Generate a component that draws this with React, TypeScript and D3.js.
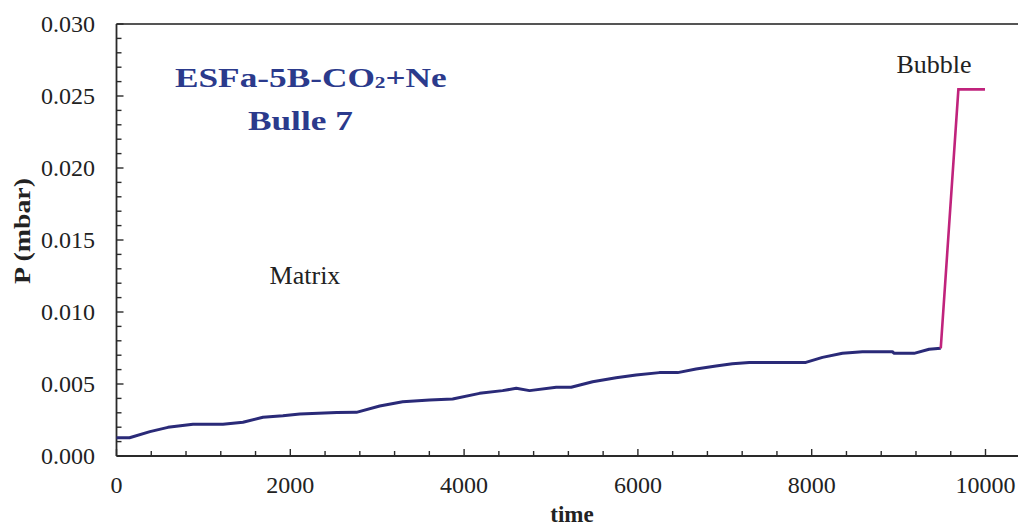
import React from 'react';
import * as d3 from 'd3';

const matrixTime = [0, 150, 385, 592, 880, 1225, 1455, 1685, 1915, 2110, 2535, 2761, 3029, 3293, 3603, 3868, 4178, 4443, 4600, 4753, 5060, 5232, 5479, 5749, 5979, 6247, 6458, 6669, 6899, 7087, 7282, 7933, 8124, 8354, 8584, 8929, 8950, 9178, 9351, 9485];
const matrixP = [0.00127, 0.00127, 0.00169, 0.00199, 0.0022, 0.0022, 0.00234, 0.00269, 0.0028, 0.00292, 0.00302, 0.00303, 0.00347, 0.00377, 0.00389, 0.00396, 0.00435, 0.00454, 0.0047, 0.00454, 0.00477, 0.00477, 0.00516, 0.00544, 0.00563, 0.00579, 0.00579, 0.00604, 0.00625, 0.00641, 0.0065, 0.0065, 0.00685, 0.00713, 0.00724, 0.00724, 0.00713, 0.00713, 0.00741, 0.00748];
const bubbleTime = [9485, 9688, 9994];
const bubbleP = [0.00748, 0.02546, 0.02546];

const xTicks = [0, 2000, 4000, 6000, 8000, 10000];
const yTicks = [0, 0.005, 0.01, 0.015, 0.02, 0.025, 0.03];
const yTickLabels = ['0.000', '0.005', '0.010', '0.015', '0.020', '0.025', '0.030'];

const FONT = '"Liberation Serif", "Times New Roman", serif';

export default function App() {
  const W = 1018;
  const H = 528;
  const x = d3.scaleLinear().domain([0, 10000]).range([116.5, 985.5]);
  const y = d3.scaleLinear().domain([0, 0.03]).range([456, 24]);
  const xMax = 10400;
  const xMinor = d3.range(0, xMax + 1, 400);
  const yMinor = d3.range(0, 31).map((i) => i * 0.001);

  const line = d3
    .line<[number, number]>()
    .x((d) => x(d[0]))
    .y((d) => y(d[1]));

  const matrixData = matrixTime.map((t, i) => [t, matrixP[i]] as [number, number]);
  const bubbleData = bubbleTime.map((t, i) => [t, bubbleP[i]] as [number, number]);

  const x0 = x(0);
  const xR = x(xMax);
  const yB = y(0);
  const yT = y(0.03);
  const axisColor = '#2a2a2a';

  return (
    <svg width={W} height={H} style={{ position: 'absolute', left: 0, top: 0, background: '#fff' }}>
      <rect x={0} y={0} width={W} height={H} fill="#fff" />
      {/* frame */}
      <line x1={x0} x2={xR} y1={yT} y2={yT} stroke="#555" strokeWidth={2} />
      <line x1={x0} x2={xR} y1={yB} y2={yB} stroke={axisColor} strokeWidth={1.8} />
      <line x1={x0} x2={x0} y1={yT} y2={yB} stroke={axisColor} strokeWidth={1.8} />
      {/* x ticks */}
      {xMinor.map((t) => {
        const major = t % 2000 === 0;
        return (
          <line key={'xt' + t} x1={x(t)} x2={x(t)} y1={yB} y2={yB - (major ? 7 : 5)} stroke={axisColor} strokeWidth={1.4} />
        );
      })}
      {/* y ticks */}
      {yMinor.map((v, i) => {
        const major = i % 5 === 0;
        return (
          <line key={'yt' + i} x1={x0} x2={x0 + (major ? 7 : 5)} y1={y(v)} y2={y(v)} stroke={axisColor} strokeWidth={1.4} />
        );
      })}
      {/* x labels */}
      {xTicks.map((t) => (
        <text key={'xl' + t} x={x(t)} y={493} textAnchor="middle" fontFamily={FONT} fontSize={24} fill="#222">
          {t}
        </text>
      ))}
      {/* y labels */}
      {yTicks.map((v, i) => (
        <text key={'yl' + i} x={95} y={y(v)} dy="0.34em" textAnchor="end" fontFamily={FONT} fontSize={24} fill="#222">
          {yTickLabels[i]}
        </text>
      ))}
      {/* axis titles */}
      <text x={572} y={522} textAnchor="middle" fontFamily={FONT} fontSize={23} fontWeight="bold" fill="#222">
        time
      </text>
      <text
        transform="translate(30,231) rotate(-90)"
        textAnchor="middle"
        fontFamily={FONT}
        fontSize={24}
        fontWeight="bold"
        fill="#222"
        textLength={106}
        lengthAdjust="spacingAndGlyphs"
      >
        P (mbar)
      </text>
      {/* data */}
      <path d={line(matrixData) || ''} fill="none" stroke="#2a2a78" strokeWidth={3} strokeLinejoin="round" />
      <path d={line(bubbleData) || ''} fill="none" stroke="#c0237c" strokeWidth={2.6} strokeLinejoin="miter" />
      {/* annotations */}
      <g transform="translate(175,87) scale(1.26,1)">
        <text x={0} y={0} fontFamily={FONT} fontSize={28} fontWeight="bold" fill="#2b3a8c">
          ESFa-5B-CO
          <tspan fontSize={17} dy={1}>2</tspan>
          <tspan dy={-1}>+Ne</tspan>
        </text>
      </g>
      <g transform="translate(248,130) scale(1.26,1)">
        <text x={0} y={0} fontFamily={FONT} fontSize={28} fontWeight="bold" fill="#2b3a8c">
          Bulle 7
        </text>
      </g>
      <text x={305} y={284} textAnchor="middle" fontFamily={FONT} fontSize={26} fill="#222">
        Matrix
      </text>
      <text x={934} y={73} textAnchor="middle" fontFamily={FONT} fontSize={26} fill="#222">
        Bubble
      </text>
    </svg>
  );
}
